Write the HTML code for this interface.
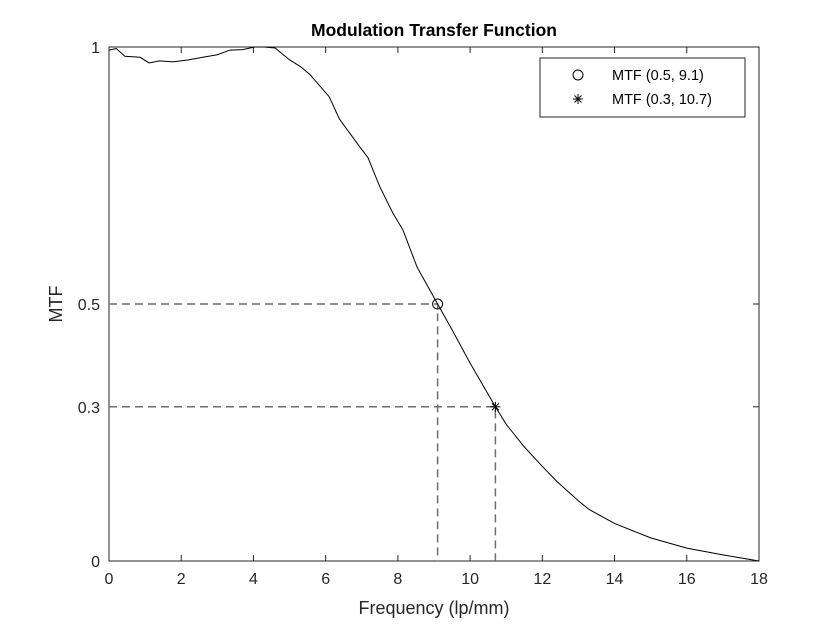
<!DOCTYPE html>
<html><head><meta charset="utf-8"><style>
body{margin:0;background:#fff;}
svg{font-family:"Liberation Sans",Arial,sans-serif;}
</style></head><body>
<svg id="chart" width="840" height="630">
<rect x="0" y="0" width="840" height="630" fill="#fff"/>
<g id="plot"></g>
</svg>
<script>
const xs=[0,0.2,0.44,0.86,1.11,1.4,1.77,2.2,2.52,3.0,3.35,3.7,4.04,4.3,4.6,5.0,5.3,5.57,6.1,6.38,6.95,7.17,7.5,7.86,8.14,8.53,9.1,9.5,10.0,10.7,11.0,11.5,12,12.4,13,13.3,14,15,16,17,18];
const ys=[0.994,0.997,0.982,0.98,0.969,0.973,0.971,0.975,0.979,0.985,0.994,0.995,1.0,1.0,0.998,0.975,0.962,0.946,0.903,0.86,0.805,0.785,0.728,0.677,0.644,0.572,0.5,0.45,0.385,0.3,0.266,0.222,0.184,0.155,0.117,0.1,0.073,0.045,0.025,0.012,0];
const xTicks=[0,2,4,6,8,10,12,14,16,18];
const yTicks=[0,0.3,0.5,1];
const markX=[9.1,10.7];
const markY=[0.5,0.3];
const legendLabels=["MTF (0.5, 9.1)","MTF (0.3, 10.7)"];
const L=109,R=759,T=47,B=561;
const sx=v=>L+(v/18)*(R-L);
const sy=v=>B-v*(B-T);
const g=document.getElementById('plot');
const NS='http://www.w3.org/2000/svg';
function mk(t,a,p){const e=document.createElementNS(NS,t);for(const k in a)e.setAttribute(k,a[k]);(p||g).appendChild(e);return e;}
let box=mk('rect',{x:L,y:T,width:R-L,height:B-T,fill:'none',stroke:'#262626','stroke-width':1});


xTicks.forEach(v=>{
  let t=mk('line',{x1:sx(v),x2:sx(v),y1:B,y2:B-6,stroke:'#262626'});
  
  
  let t2=mk('line',{x1:sx(v),x2:sx(v),y1:T,y2:T+6,stroke:'#262626'});
  
  
  let l=mk('text',{x:sx(v),y:B+23,'text-anchor':'middle','font-size':16,fill:'#262626'});l.textContent=v;
  
  
});
yTicks.forEach(v=>{
  let t=mk('line',{x1:L,x2:L+6,y1:sy(v),y2:sy(v),stroke:'#262626'});
  
  
  let t2=mk('line',{x1:R,x2:R-6,y1:sy(v),y2:sy(v),stroke:'#262626'});
  
  
  let l=mk('text',{x:L-9,y:sy(v)+6,'text-anchor':'end','font-size':16,fill:'#262626'});l.textContent=v;
  
  
});
markX.forEach((mx,i)=>{
  let h=mk('polyline',{points:`${L},${sy(markY[i])} ${sx(mx)},${sy(markY[i])} ${sx(mx)},${B}`,fill:'none',stroke:'#6e6e6e','stroke-width':1.5,'stroke-dasharray':'8,5'});
  
  
});
let c=mk('polyline',{points:xs.map((x,i)=>sx(x)+','+sy(ys[i])).join(' '),fill:'none',stroke:'#000','stroke-width':1});


function star(x,y){const grp=mk('g',{stroke:'#000','stroke-width':1});
 [[-5,0,5,0],[0,-5,0,5],[-3.5,-3.5,3.5,3.5],[-3.5,3.5,3.5,-3.5]].forEach(d=>mk('line',{x1:x+d[0],y1:y+d[1],x2:x+d[2],y2:y+d[3]},grp));return grp;}
let m1=mk('circle',{cx:sx(markX[0]),cy:sy(markY[0]),r:5,fill:'none',stroke:'#000'});


let m2=star(sx(markX[1]),sy(markY[1]));


let lg=mk('rect',{x:540,y:58,width:205,height:59,fill:'#fff',stroke:'#262626'});


let lc=mk('circle',{cx:578,cy:75,r:5,fill:'none',stroke:'#000'});


let ls=star(578,99);


legendLabels.forEach((s,i)=>{let t=mk('text',{x:612,y:80+i*24,'font-size':14.5,fill:'#000'});t.textContent=s;
  
  });
let ti=mk('text',{x:434,y:36,'text-anchor':'middle','font-size':17.5,'font-weight':'bold',fill:'#000'});ti.textContent='Modulation Transfer Function';


let xt=mk('text',{x:434,y:614,'text-anchor':'middle','font-size':18,fill:'#262626'});xt.textContent='Frequency (lp/mm)';


let yt=mk('text',{x:0,y:0,'text-anchor':'middle','font-size':18,fill:'#262626',transform:'translate(62,304) rotate(-90)'});yt.textContent='MTF';


</script>
</body></html>
